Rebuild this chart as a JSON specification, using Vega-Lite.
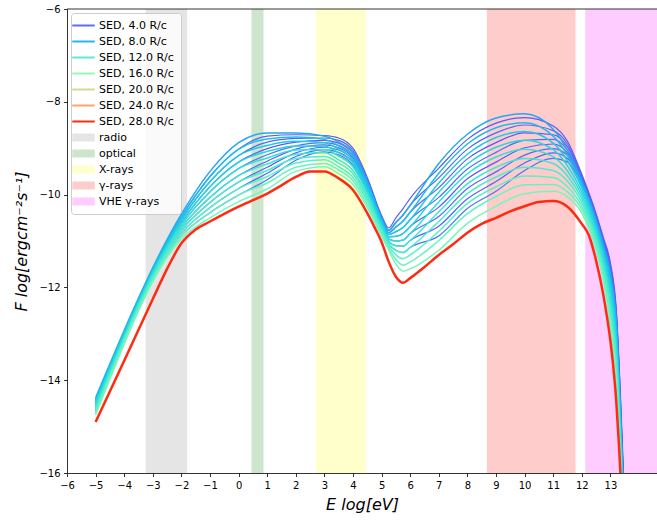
{
  "$schema": "https://vega.github.io/schema/vega-lite/v6.json",
  "width": 590,
  "height": 464,
  "autosize": {"type": "none"},
  "padding": {"left": 67, "top": 9, "right": 0, "bottom": 49},
  "config": {
    "view": {"stroke": null},
    "font": "DejaVu Sans",
    "axis": {
      "labelFont": "DejaVu Sans", "labelFontSize": 10, "labelColor": "#000000",
      "tickColor": "#000000", "tickSize": 3.5, "tickWidth": 0.8,
      "domainColor": "#000000", "domainWidth": 0.8, "labelPadding": 3.5,
      "labelOverlap": false, "labelBound": false, "labelFlush": false,
      "grid": false, "titleFont": "DejaVu Sans", "titleFontSize": 16,
      "titleFontWeight": "normal", "titleFontStyle": "italic", "titleColor": "#000000"
    }
  },
  "datasets": {
    "bands": [
      {"s": "radio", "x0": -3.25, "x1": -1.8},
      {"s": "optical", "x0": 0.45, "x1": 0.87},
      {"s": "X-rays", "x0": 2.7, "x1": 4.45},
      {"s": "γ-rays", "x0": 8.68, "x1": 11.78},
      {"s": "VHE γ-rays", "x0": 12.12, "x1": 14.63}
    ],
    "fb": [
      {"s":"b0","x":-5,"y":-14.42},{"s":"b0","x":-2,"y":-10.48},{"s":"b0","x":-1,"y":-9.61},{"s":"b0","x":0,"y":-9.02},{"s":"b0","x":1,"y":-8.74},{"s":"b0","x":2,"y":-8.71},{"s":"b0","x":3,"y":-8.73},{"s":"b0","x":3.5,"y":-8.78},{"s":"b0","x":4,"y":-9.0},{"s":"b0","x":4.5,"y":-9.63},{"s":"b0","x":5,"y":-10.45},{"s":"b0","x":5.25,"y":-10.72},{"s":"b0","x":5.5,"y":-10.5},{"s":"b0","x":5.75,"y":-10.3},{"s":"b0","x":6,"y":-10.08},{"s":"b0","x":7,"y":-9.43},{"s":"b0","x":8,"y":-8.81},{"s":"b0","x":9,"y":-8.46},{"s":"b0","x":10,"y":-8.34},{"s":"b0","x":11,"y":-8.52},{"s":"b0","x":11.5,"y":-8.85},{"s":"b0","x":12,"y":-9.56},{"s":"b0","x":12.5,"y":-10.41},{"s":"b0","x":12.75,"y":-10.92},{"s":"b0","x":13,"y":-11.47},{"s":"b0","x":13.2,"y":-12.43},{"s":"b0","x":13.47,"y":-16.2},
      {"s":"b1","x":-5,"y":-14.46},{"s":"b1","x":-2,"y":-10.54},{"s":"b1","x":-1,"y":-9.72},{"s":"b1","x":0,"y":-9.16},{"s":"b1","x":1,"y":-8.87},{"s":"b1","x":2,"y":-8.79},{"s":"b1","x":3,"y":-8.78},{"s":"b1","x":3.5,"y":-8.83},{"s":"b1","x":4,"y":-9.05},{"s":"b1","x":4.5,"y":-9.68},{"s":"b1","x":5,"y":-10.48},{"s":"b1","x":5.25,"y":-10.77},{"s":"b1","x":5.5,"y":-10.6},{"s":"b1","x":5.75,"y":-10.44},{"s":"b1","x":6,"y":-10.23},{"s":"b1","x":7,"y":-9.64},{"s":"b1","x":8,"y":-9.02},{"s":"b1","x":9,"y":-8.67},{"s":"b1","x":10,"y":-8.5},{"s":"b1","x":11,"y":-8.62},{"s":"b1","x":11.5,"y":-8.91},{"s":"b1","x":12,"y":-9.59},{"s":"b1","x":12.5,"y":-10.44},{"s":"b1","x":12.75,"y":-10.95},{"s":"b1","x":13,"y":-11.52},{"s":"b1","x":13.2,"y":-12.48},{"s":"b1","x":13.46,"y":-16.2},
      {"s":"b2","x":-5,"y":-14.5},{"s":"b2","x":-2,"y":-10.6},{"s":"b2","x":-1,"y":-9.83},{"s":"b2","x":0,"y":-9.3},{"s":"b2","x":1,"y":-9.01},{"s":"b2","x":2,"y":-8.87},{"s":"b2","x":3,"y":-8.83},{"s":"b2","x":3.5,"y":-8.89},{"s":"b2","x":4,"y":-9.11},{"s":"b2","x":4.5,"y":-9.72},{"s":"b2","x":5,"y":-10.51},{"s":"b2","x":5.25,"y":-10.82},{"s":"b2","x":5.5,"y":-10.7},{"s":"b2","x":5.75,"y":-10.57},{"s":"b2","x":6,"y":-10.38},{"s":"b2","x":7,"y":-9.85},{"s":"b2","x":8,"y":-9.23},{"s":"b2","x":9,"y":-8.88},{"s":"b2","x":10,"y":-8.67},{"s":"b2","x":11,"y":-8.71},{"s":"b2","x":11.5,"y":-8.97},{"s":"b2","x":12,"y":-9.62},{"s":"b2","x":12.5,"y":-10.47},{"s":"b2","x":12.75,"y":-10.98},{"s":"b2","x":13,"y":-11.57},{"s":"b2","x":13.2,"y":-12.53},{"s":"b2","x":13.46,"y":-16.2},
      {"s":"b3","x":-5,"y":-14.54},{"s":"b3","x":-2,"y":-10.65},{"s":"b3","x":-1,"y":-9.94},{"s":"b3","x":0,"y":-9.44},{"s":"b3","x":1,"y":-9.14},{"s":"b3","x":2,"y":-8.95},{"s":"b3","x":3,"y":-8.88},{"s":"b3","x":3.5,"y":-8.94},{"s":"b3","x":4,"y":-9.16},{"s":"b3","x":4.5,"y":-9.76},{"s":"b3","x":5,"y":-10.54},{"s":"b3","x":5.25,"y":-10.86},{"s":"b3","x":5.5,"y":-10.8},{"s":"b3","x":5.75,"y":-10.71},{"s":"b3","x":6,"y":-10.54},{"s":"b3","x":7,"y":-10.06},{"s":"b3","x":8,"y":-9.45},{"s":"b3","x":9,"y":-9.09},{"s":"b3","x":10,"y":-8.83},{"s":"b3","x":11,"y":-8.81},{"s":"b3","x":11.5,"y":-9.04},{"s":"b3","x":12,"y":-9.65},{"s":"b3","x":12.5,"y":-10.49},{"s":"b3","x":12.75,"y":-11.01},{"s":"b3","x":13,"y":-11.61},{"s":"b3","x":13.2,"y":-12.59},{"s":"b3","x":13.45,"y":-16.2},
      {"s":"b4","x":-5,"y":-14.59},{"s":"b4","x":-2,"y":-10.71},{"s":"b4","x":-1,"y":-10.06},{"s":"b4","x":0,"y":-9.59},{"s":"b4","x":1,"y":-9.28},{"s":"b4","x":2,"y":-9.02},{"s":"b4","x":3,"y":-8.93},{"s":"b4","x":3.5,"y":-8.99},{"s":"b4","x":4,"y":-9.21},{"s":"b4","x":4.5,"y":-9.81},{"s":"b4","x":5,"y":-10.57},{"s":"b4","x":5.25,"y":-10.91},{"s":"b4","x":5.5,"y":-10.9},{"s":"b4","x":5.75,"y":-10.84},{"s":"b4","x":6,"y":-10.69},{"s":"b4","x":7,"y":-10.27},{"s":"b4","x":8,"y":-9.66},{"s":"b4","x":9,"y":-9.3},{"s":"b4","x":10,"y":-8.99},{"s":"b4","x":11,"y":-8.91},{"s":"b4","x":11.5,"y":-9.1},{"s":"b4","x":12,"y":-9.68},{"s":"b4","x":12.5,"y":-10.52},{"s":"b4","x":12.75,"y":-11.04},{"s":"b4","x":13,"y":-11.66},{"s":"b4","x":13.2,"y":-12.64},{"s":"b4","x":13.45,"y":-16.2},
      {"s":"b5","x":-5,"y":-14.63},{"s":"b5","x":-2,"y":-10.77},{"s":"b5","x":-1,"y":-10.17},{"s":"b5","x":0,"y":-9.73},{"s":"b5","x":1,"y":-9.41},{"s":"b5","x":2,"y":-9.1},{"s":"b5","x":3,"y":-8.98},{"s":"b5","x":3.5,"y":-9.04},{"s":"b5","x":4,"y":-9.26},{"s":"b5","x":4.5,"y":-9.85},{"s":"b5","x":5,"y":-10.6},{"s":"b5","x":5.25,"y":-10.96},{"s":"b5","x":5.5,"y":-11.0},{"s":"b5","x":5.75,"y":-10.98},{"s":"b5","x":6,"y":-10.84},{"s":"b5","x":7,"y":-10.47},{"s":"b5","x":8,"y":-9.87},{"s":"b5","x":9,"y":-9.51},{"s":"b5","x":10,"y":-9.15},{"s":"b5","x":11,"y":-9.01},{"s":"b5","x":11.5,"y":-9.16},{"s":"b5","x":12,"y":-9.71},{"s":"b5","x":12.5,"y":-10.55},{"s":"b5","x":12.75,"y":-11.07},{"s":"b5","x":13,"y":-11.71},{"s":"b5","x":13.2,"y":-12.69},{"s":"b5","x":13.44,"y":-16.2},
      {"s":"b6","x":-5,"y":-14.67},{"s":"b6","x":-2,"y":-10.83},{"s":"b6","x":-1,"y":-10.28},{"s":"b6","x":0,"y":-9.87},{"s":"b6","x":1,"y":-9.54},{"s":"b6","x":2,"y":-9.18},{"s":"b6","x":3,"y":-9.03},{"s":"b6","x":3.5,"y":-9.09},{"s":"b6","x":4,"y":-9.31},{"s":"b6","x":4.5,"y":-9.89},{"s":"b6","x":5,"y":-10.63},{"s":"b6","x":5.25,"y":-11.01},{"s":"b6","x":5.5,"y":-11.1},{"s":"b6","x":5.75,"y":-11.11},{"s":"b6","x":6,"y":-10.99},{"s":"b6","x":7,"y":-10.68},{"s":"b6","x":8,"y":-10.09},{"s":"b6","x":9,"y":-9.72},{"s":"b6","x":10,"y":-9.32},{"s":"b6","x":11,"y":-9.1},{"s":"b6","x":11.5,"y":-9.22},{"s":"b6","x":12,"y":-9.73},{"s":"b6","x":12.5,"y":-10.57},{"s":"b6","x":12.75,"y":-11.11},{"s":"b6","x":13,"y":-11.75},{"s":"b6","x":13.2,"y":-12.75},{"s":"b6","x":13.43,"y":-16.2},
      {"s":"b7","x":-5,"y":-14.71},{"s":"b7","x":-2,"y":-10.89},{"s":"b7","x":-1,"y":-10.39},{"s":"b7","x":0,"y":-10.01},{"s":"b7","x":1,"y":-9.68},{"s":"b7","x":2,"y":-9.26},{"s":"b7","x":3,"y":-9.08},{"s":"b7","x":3.5,"y":-9.14},{"s":"b7","x":4,"y":-9.37},{"s":"b7","x":4.5,"y":-9.94},{"s":"b7","x":5,"y":-10.66},{"s":"b7","x":5.25,"y":-11.06},{"s":"b7","x":5.5,"y":-11.2},{"s":"b7","x":5.75,"y":-11.25},{"s":"b7","x":6,"y":-11.14},{"s":"b7","x":7,"y":-10.89},{"s":"b7","x":8,"y":-10.3},{"s":"b7","x":9,"y":-9.93},{"s":"b7","x":10,"y":-9.48},{"s":"b7","x":11,"y":-9.22},{"s":"b7","x":11.5,"y":-9.3},{"s":"b7","x":12,"y":-9.78},{"s":"b7","x":12.5,"y":-10.6},{"s":"b7","x":12.75,"y":-11.14},{"s":"b7","x":13,"y":-11.8},{"s":"b7","x":13.2,"y":-12.8},{"s":"b7","x":13.43,"y":-16.2}
    ],
    "fa": [
      {"s":"a0","x":-5,"y":-14.38},{"s":"a0","x":-2,"y":-10.42},{"s":"a0","x":-1,"y":-9.5},{"s":"a0","x":0,"y":-8.88},{"s":"a0","x":1,"y":-8.67},{"s":"a0","x":2,"y":-8.67},{"s":"a0","x":3,"y":-8.74},{"s":"a0","x":3.5,"y":-8.87},{"s":"a0","x":4,"y":-9.09},{"s":"a0","x":4.5,"y":-9.71},{"s":"a0","x":5,"y":-10.5},{"s":"a0","x":5.25,"y":-10.77},{"s":"a0","x":5.5,"y":-10.6},{"s":"a0","x":5.75,"y":-10.44},{"s":"a0","x":6,"y":-10.23},{"s":"a0","x":7,"y":-9.33},{"s":"a0","x":8,"y":-8.7},{"s":"a0","x":9,"y":-8.35},{"s":"a0","x":10,"y":-8.26},{"s":"a0","x":11,"y":-8.59},{"s":"a0","x":11.5,"y":-9.04},{"s":"a0","x":12,"y":-9.7},{"s":"a0","x":12.5,"y":-10.54},{"s":"a0","x":12.75,"y":-11.07},{"s":"a0","x":13,"y":-11.7},{"s":"a0","x":13.2,"y":-12.69},{"s":"a0","x":13.44,"y":-16.2},
      {"s":"a1","x":-5,"y":-14.42},{"s":"a1","x":-2,"y":-10.48},{"s":"a1","x":-1,"y":-9.61},{"s":"a1","x":0,"y":-9.02},{"s":"a1","x":1,"y":-8.8},{"s":"a1","x":2,"y":-8.76},{"s":"a1","x":3,"y":-8.81},{"s":"a1","x":3.5,"y":-8.95},{"s":"a1","x":4,"y":-9.17},{"s":"a1","x":4.5,"y":-9.77},{"s":"a1","x":5,"y":-10.55},{"s":"a1","x":5.25,"y":-10.82},{"s":"a1","x":5.5,"y":-10.7},{"s":"a1","x":5.75,"y":-10.57},{"s":"a1","x":6,"y":-10.38},{"s":"a1","x":7,"y":-9.54},{"s":"a1","x":8,"y":-8.91},{"s":"a1","x":9,"y":-8.56},{"s":"a1","x":10,"y":-8.45},{"s":"a1","x":11,"y":-8.74},{"s":"a1","x":11.5,"y":-9.15},{"s":"a1","x":12,"y":-9.78},{"s":"a1","x":12.5,"y":-10.62},{"s":"a1","x":12.75,"y":-11.16},{"s":"a1","x":13,"y":-11.83},{"s":"a1","x":13.2,"y":-12.83},{"s":"a1","x":13.43,"y":-16.2},
      {"s":"a2","x":-5,"y":-14.46},{"s":"a2","x":-2,"y":-10.54},{"s":"a2","x":-1,"y":-9.72},{"s":"a2","x":0,"y":-9.16},{"s":"a2","x":1,"y":-8.94},{"s":"a2","x":2,"y":-8.85},{"s":"a2","x":3,"y":-8.88},{"s":"a2","x":3.5,"y":-9.02},{"s":"a2","x":4,"y":-9.25},{"s":"a2","x":4.5,"y":-9.84},{"s":"a2","x":5,"y":-10.59},{"s":"a2","x":5.25,"y":-10.86},{"s":"a2","x":5.5,"y":-10.8},{"s":"a2","x":5.75,"y":-10.71},{"s":"a2","x":6,"y":-10.54},{"s":"a2","x":7,"y":-9.75},{"s":"a2","x":8,"y":-9.13},{"s":"a2","x":9,"y":-8.77},{"s":"a2","x":10,"y":-8.64},{"s":"a2","x":11,"y":-8.89},{"s":"a2","x":11.5,"y":-9.27},{"s":"a2","x":12,"y":-9.86},{"s":"a2","x":12.5,"y":-10.69},{"s":"a2","x":12.75,"y":-11.24},{"s":"a2","x":13,"y":-11.96},{"s":"a2","x":13.2,"y":-12.98},{"s":"a2","x":13.43,"y":-16.2},
      {"s":"a3","x":-5,"y":-14.5},{"s":"a3","x":-2,"y":-10.6},{"s":"a3","x":-1,"y":-9.83},{"s":"a3","x":0,"y":-9.3},{"s":"a3","x":1,"y":-9.07},{"s":"a3","x":2,"y":-8.95},{"s":"a3","x":3,"y":-8.96},{"s":"a3","x":3.5,"y":-9.1},{"s":"a3","x":4,"y":-9.32},{"s":"a3","x":4.5,"y":-9.9},{"s":"a3","x":5,"y":-10.64},{"s":"a3","x":5.25,"y":-10.91},{"s":"a3","x":5.5,"y":-10.9},{"s":"a3","x":5.75,"y":-10.84},{"s":"a3","x":6,"y":-10.69},{"s":"a3","x":7,"y":-9.95},{"s":"a3","x":8,"y":-9.34},{"s":"a3","x":9,"y":-8.98},{"s":"a3","x":10,"y":-8.83},{"s":"a3","x":11,"y":-9.03},{"s":"a3","x":11.5,"y":-9.38},{"s":"a3","x":12,"y":-9.94},{"s":"a3","x":12.5,"y":-10.76},{"s":"a3","x":12.75,"y":-11.33},{"s":"a3","x":13,"y":-12.08},{"s":"a3","x":13.2,"y":-13.12},{"s":"a3","x":13.42,"y":-16.2},
      {"s":"a4","x":-5,"y":-14.54},{"s":"a4","x":-2,"y":-10.65},{"s":"a4","x":-1,"y":-9.94},{"s":"a4","x":0,"y":-9.44},{"s":"a4","x":1,"y":-9.21},{"s":"a4","x":2,"y":-9.04},{"s":"a4","x":3,"y":-9.03},{"s":"a4","x":3.5,"y":-9.17},{"s":"a4","x":4,"y":-9.4},{"s":"a4","x":4.5,"y":-9.96},{"s":"a4","x":5,"y":-10.68},{"s":"a4","x":5.25,"y":-10.96},{"s":"a4","x":5.5,"y":-11.0},{"s":"a4","x":5.75,"y":-10.98},{"s":"a4","x":6,"y":-10.84},{"s":"a4","x":7,"y":-10.16},{"s":"a4","x":8,"y":-9.55},{"s":"a4","x":9,"y":-9.19},{"s":"a4","x":10,"y":-9.02},{"s":"a4","x":11,"y":-9.18},{"s":"a4","x":11.5,"y":-9.49},{"s":"a4","x":12,"y":-10.01},{"s":"a4","x":12.5,"y":-10.84},{"s":"a4","x":12.75,"y":-11.42},{"s":"a4","x":13,"y":-12.21},{"s":"a4","x":13.2,"y":-13.27},{"s":"a4","x":13.41,"y":-16.2},
      {"s":"a5","x":-5,"y":-14.59},{"s":"a5","x":-2,"y":-10.71},{"s":"a5","x":-1,"y":-10.06},{"s":"a5","x":0,"y":-9.59},{"s":"a5","x":1,"y":-9.34},{"s":"a5","x":2,"y":-9.13},{"s":"a5","x":3,"y":-9.1},{"s":"a5","x":3.5,"y":-9.25},{"s":"a5","x":4,"y":-9.48},{"s":"a5","x":4.5,"y":-10.03},{"s":"a5","x":5,"y":-10.72},{"s":"a5","x":5.25,"y":-11.01},{"s":"a5","x":5.5,"y":-11.1},{"s":"a5","x":5.75,"y":-11.11},{"s":"a5","x":6,"y":-10.99},{"s":"a5","x":7,"y":-10.37},{"s":"a5","x":8,"y":-9.77},{"s":"a5","x":9,"y":-9.41},{"s":"a5","x":10,"y":-9.22},{"s":"a5","x":11,"y":-9.33},{"s":"a5","x":11.5,"y":-9.6},{"s":"a5","x":12,"y":-10.09},{"s":"a5","x":12.5,"y":-10.91},{"s":"a5","x":12.75,"y":-11.5},{"s":"a5","x":13,"y":-12.34},{"s":"a5","x":13.2,"y":-13.42},{"s":"a5","x":13.41,"y":-16.2},
      {"s":"a6","x":-5,"y":-14.63},{"s":"a6","x":-2,"y":-10.77},{"s":"a6","x":-1,"y":-10.17},{"s":"a6","x":0,"y":-9.73},{"s":"a6","x":1,"y":-9.48},{"s":"a6","x":2,"y":-9.22},{"s":"a6","x":3,"y":-9.18},{"s":"a6","x":3.5,"y":-9.32},{"s":"a6","x":4,"y":-9.55},{"s":"a6","x":4.5,"y":-10.09},{"s":"a6","x":5,"y":-10.77},{"s":"a6","x":5.25,"y":-11.06},{"s":"a6","x":5.5,"y":-11.2},{"s":"a6","x":5.75,"y":-11.25},{"s":"a6","x":6,"y":-11.14},{"s":"a6","x":7,"y":-10.58},{"s":"a6","x":8,"y":-9.98},{"s":"a6","x":9,"y":-9.62},{"s":"a6","x":10,"y":-9.41},{"s":"a6","x":11,"y":-9.48},{"s":"a6","x":11.5,"y":-9.71},{"s":"a6","x":12,"y":-10.17},{"s":"a6","x":12.5,"y":-10.98},{"s":"a6","x":12.75,"y":-11.59},{"s":"a6","x":13,"y":-12.47},{"s":"a6","x":13.2,"y":-13.56},{"s":"a6","x":13.4,"y":-16.2},
      {"s":"a7","x":-5,"y":-14.67},{"s":"a7","x":-2,"y":-10.83},{"s":"a7","x":-1,"y":-10.28},{"s":"a7","x":0,"y":-9.87},{"s":"a7","x":1,"y":-9.61},{"s":"a7","x":2,"y":-9.32},{"s":"a7","x":3,"y":-9.25},{"s":"a7","x":3.5,"y":-9.4},{"s":"a7","x":4,"y":-9.63},{"s":"a7","x":4.5,"y":-10.15},{"s":"a7","x":5,"y":-10.81},{"s":"a7","x":5.25,"y":-11.1},{"s":"a7","x":5.5,"y":-11.3},{"s":"a7","x":5.75,"y":-11.38},{"s":"a7","x":6,"y":-11.3},{"s":"a7","x":7,"y":-10.79},{"s":"a7","x":8,"y":-10.19},{"s":"a7","x":9,"y":-9.83},{"s":"a7","x":10,"y":-9.6},{"s":"a7","x":11,"y":-9.63},{"s":"a7","x":11.5,"y":-9.83},{"s":"a7","x":12,"y":-10.25},{"s":"a7","x":12.5,"y":-11.05},{"s":"a7","x":12.75,"y":-11.68},{"s":"a7","x":13,"y":-12.6},{"s":"a7","x":13.2,"y":-13.71},{"s":"a7","x":13.39,"y":-16.2},
      {"s":"a8","x":-5,"y":-14.71},{"s":"a8","x":-2,"y":-10.89},{"s":"a8","x":-1,"y":-10.39},{"s":"a8","x":0,"y":-10.01},{"s":"a8","x":1,"y":-9.75},{"s":"a8","x":2,"y":-9.41},{"s":"a8","x":3,"y":-9.33},{"s":"a8","x":3.5,"y":-9.47},{"s":"a8","x":4,"y":-9.7},{"s":"a8","x":4.5,"y":-10.22},{"s":"a8","x":5,"y":-10.86},{"s":"a8","x":5.25,"y":-11.15},{"s":"a8","x":5.5,"y":-11.4},{"s":"a8","x":5.75,"y":-11.52},{"s":"a8","x":6,"y":-11.45},{"s":"a8","x":7,"y":-10.99},{"s":"a8","x":8,"y":-10.41},{"s":"a8","x":9,"y":-10.04},{"s":"a8","x":10,"y":-9.79},{"s":"a8","x":11,"y":-9.78},{"s":"a8","x":11.5,"y":-9.94},{"s":"a8","x":12,"y":-10.32},{"s":"a8","x":12.5,"y":-11.13},{"s":"a8","x":12.75,"y":-11.76},{"s":"a8","x":13,"y":-12.72},{"s":"a8","x":13.2,"y":-13.85},{"s":"a8","x":13.39,"y":-16.2},
      {"s":"a9","x":-5,"y":-14.75},{"s":"a9","x":-2,"y":-10.95},{"s":"a9","x":-1,"y":-10.5},{"s":"a9","x":0,"y":-10.15},{"s":"a9","x":1,"y":-9.88},{"s":"a9","x":2,"y":-9.5},{"s":"a9","x":3,"y":-9.4},{"s":"a9","x":3.5,"y":-9.55},{"s":"a9","x":4,"y":-9.78},{"s":"a9","x":4.5,"y":-10.28},{"s":"a9","x":5,"y":-10.9},{"s":"a9","x":5.25,"y":-11.2},{"s":"a9","x":5.5,"y":-11.5},{"s":"a9","x":5.75,"y":-11.65},{"s":"a9","x":6,"y":-11.6},{"s":"a9","x":7,"y":-11.2},{"s":"a9","x":8,"y":-10.62},{"s":"a9","x":9,"y":-10.25},{"s":"a9","x":10,"y":-9.98},{"s":"a9","x":11,"y":-9.93},{"s":"a9","x":11.5,"y":-10.05},{"s":"a9","x":12,"y":-10.4},{"s":"a9","x":12.5,"y":-11.2},{"s":"a9","x":12.75,"y":-11.85},{"s":"a9","x":13,"y":-12.85},{"s":"a9","x":13.2,"y":-14.0},{"s":"a9","x":13.38,"y":-16.2}
    ],
    "red": [
      {"s":"SED, 28.0 R/c","x":-5,"y":-14.9},{"s":"SED, 28.0 R/c","x":-4,"y":-13.58},{"s":"SED, 28.0 R/c","x":-3,"y":-12.25},{"s":"SED, 28.0 R/c","x":-2.5,"y":-11.6},{"s":"SED, 28.0 R/c","x":-2,"y":-11.05},{"s":"SED, 28.0 R/c","x":-1.5,"y":-10.75},{"s":"SED, 28.0 R/c","x":-1,"y":-10.58},{"s":"SED, 28.0 R/c","x":0,"y":-10.26},{"s":"SED, 28.0 R/c","x":0.5,"y":-10.12},{"s":"SED, 28.0 R/c","x":1,"y":-9.98},{"s":"SED, 28.0 R/c","x":1.5,"y":-9.8},{"s":"SED, 28.0 R/c","x":2,"y":-9.62},{"s":"SED, 28.0 R/c","x":2.5,"y":-9.5},{"s":"SED, 28.0 R/c","x":3,"y":-9.5},{"s":"SED, 28.0 R/c","x":3.5,"y":-9.65},{"s":"SED, 28.0 R/c","x":4,"y":-9.9},{"s":"SED, 28.0 R/c","x":4.5,"y":-10.4},{"s":"SED, 28.0 R/c","x":4.75,"y":-10.7},{"s":"SED, 28.0 R/c","x":5,"y":-11.02},{"s":"SED, 28.0 R/c","x":5.25,"y":-11.45},{"s":"SED, 28.0 R/c","x":5.5,"y":-11.77},{"s":"SED, 28.0 R/c","x":5.75,"y":-11.9},{"s":"SED, 28.0 R/c","x":6,"y":-11.8},{"s":"SED, 28.0 R/c","x":6.5,"y":-11.56},{"s":"SED, 28.0 R/c","x":7,"y":-11.3},{"s":"SED, 28.0 R/c","x":7.5,"y":-11.07},{"s":"SED, 28.0 R/c","x":8,"y":-10.82},{"s":"SED, 28.0 R/c","x":8.5,"y":-10.63},{"s":"SED, 28.0 R/c","x":9,"y":-10.5},{"s":"SED, 28.0 R/c","x":9.5,"y":-10.36},{"s":"SED, 28.0 R/c","x":10,"y":-10.25},{"s":"SED, 28.0 R/c","x":10.5,"y":-10.16},{"s":"SED, 28.0 R/c","x":11,"y":-10.14},{"s":"SED, 28.0 R/c","x":11.5,"y":-10.26},{"s":"SED, 28.0 R/c","x":12,"y":-10.63},{"s":"SED, 28.0 R/c","x":12.25,"y":-10.88},{"s":"SED, 28.0 R/c","x":12.5,"y":-11.42},{"s":"SED, 28.0 R/c","x":12.75,"y":-12.15},{"s":"SED, 28.0 R/c","x":13,"y":-13.15},{"s":"SED, 28.0 R/c","x":13.1,"y":-13.7},{"s":"SED, 28.0 R/c","x":13.2,"y":-14.4},{"s":"SED, 28.0 R/c","x":13.3,"y":-15.4},{"s":"SED, 28.0 R/c","x":13.36,"y":-16.1}
    ]
  },
  "layer": [
    {
      "data": {"name": "bands"},
      "mark": {"type": "rect"},
      "encoding": {
        "x": {"field": "x0", "type": "quantitative",
          "scale": {"domain": [-6, 14.63], "nice": false, "zero": false},
          "axis": {"title": "E log[eV]", "values": [-6,-5,-4,-3,-2,-1,0,1,2,3,4,5,6,7,8,9,10,11,12,13], "titlePadding": 6}},
        "x2": {"field": "x1"},
        "y": {"datum": -6, "type": "quantitative",
          "scale": {"domain": [-16, -6], "nice": false, "zero": false},
          "axis": {"title": "F log[ergcm⁻²s⁻¹]", "values": [-6,-8,-10,-12,-14,-16], "titlePadding": 9}},
        "y2": {"datum": -16},
        "color": {
          "field": "s", "type": "nominal",
          "scale": {
            "domain": ["b0","b1","b2","b3","b4","b5","b6","b7","a0","a1","a2","a3","a4","a5","a6","a7","a8","a9",
              "SED, 4.0 R/c","SED, 8.0 R/c","SED, 12.0 R/c","SED, 16.0 R/c","SED, 20.0 R/c","SED, 24.0 R/c","SED, 28.0 R/c",
              "radio","optical","X-rays","γ-rays","VHE γ-rays"],
            "range": ["#5a5cf6","#5466f6","#5e58f6","#4e70f5","#585ef6","#506af5","#5662f6","#4a74f4",
              "#22a8f0","#1cbcec","#1ccbe6","#24d6e0","#30dfda","#3ee6d4","#4cecce","#5af0c8","#68f3c2","#76f6bc",
              "#5a6ef4","#22b8ee","#5ce8d6","#9cf6b2","#d4d994","#ffa26c","#ff2a10",
              "#e5e5e5","#cde4cd","#ffffcc","#ffcccc","#ffccff"]
          },
          "legend": {
            "values": ["SED, 4.0 R/c","SED, 8.0 R/c","SED, 12.0 R/c","SED, 16.0 R/c","SED, 20.0 R/c","SED, 24.0 R/c","SED, 28.0 R/c","radio","optical","X-rays","γ-rays","VHE γ-rays"],
            "title": null,
            "orient": "top-left",
            "offset": 4,
            "padding": 7,
            "fillColor": "rgba(255,255,255,0.8)",
            "strokeColor": "#cccccc",
            "cornerRadius": 3,
            "labelFont": "DejaVu Sans",
            "labelFontSize": 11,
            "labelColor": "#000000",
            "labelOffset": 10,
            "rowPadding": 4,
            "symbolSize": 256,
            "symbolType": "M-1.4,0H1.4",
            "symbolOpacity": 1,
            "encode": {
              "symbols": {
                "update": {
                  "shape": {"value": "M-1.4,0H1.4"},
                  "fill": {"value": "transparent"},
                  "stroke": {"scale": "color", "field": "value"},
                  "strokeJoin": {"value": "bevel"},
                  "strokeCap": {"value": "butt"},
                  "strokeWidth": {"signal": "indexof(['radio','optical','X-rays','γ-rays','VHE γ-rays'], datum.value) >= 0 ? 8 : 2"},
                  "opacity": {"value": 1}
                }
              }
            }
          }
        }
      }
    },
    {
      "data": {"name": "fb"},
      "mark": {"type": "line", "interpolate": "monotone", "strokeWidth": 1.2, "clip": true},
      "encoding": {
        "x": {"field": "x", "type": "quantitative",
          "axis": {"title": "E log[eV]", "values": [-6,-5,-4,-3,-2,-1,0,1,2,3,4,5,6,7,8,9,10,11,12,13], "titlePadding": 6}},
        "y": {"field": "y", "type": "quantitative",
          "axis": {"title": "F log[ergcm⁻²s⁻¹]", "values": [-6,-8,-10,-12,-14,-16], "titlePadding": 9}},
        "color": {"field": "s", "type": "nominal"}
      }
    },
    {
      "data": {"name": "fa"},
      "mark": {"type": "line", "interpolate": "monotone", "strokeWidth": 1.5, "clip": true},
      "encoding": {
        "x": {"field": "x", "type": "quantitative",
          "axis": {"title": "E log[eV]", "values": [-6,-5,-4,-3,-2,-1,0,1,2,3,4,5,6,7,8,9,10,11,12,13], "titlePadding": 6}},
        "y": {"field": "y", "type": "quantitative",
          "axis": {"title": "F log[ergcm⁻²s⁻¹]", "values": [-6,-8,-10,-12,-14,-16], "titlePadding": 9}},
        "color": {"field": "s", "type": "nominal"}
      }
    },
    {
      "data": {"name": "red"},
      "mark": {"type": "line", "interpolate": "monotone", "strokeWidth": 2.5, "clip": true},
      "encoding": {
        "x": {"field": "x", "type": "quantitative",
          "axis": {"title": "E log[eV]", "values": [-6,-5,-4,-3,-2,-1,0,1,2,3,4,5,6,7,8,9,10,11,12,13], "titlePadding": 6}},
        "y": {"field": "y", "type": "quantitative",
          "axis": {"title": "F log[ergcm⁻²s⁻¹]", "values": [-6,-8,-10,-12,-14,-16], "titlePadding": 9}},
        "color": {"field": "s", "type": "nominal"}
      }
    },
    {
      "data": {"values": [{}]},
      "mark": {"type": "rule", "color": "#000000", "strokeWidth": 0.8},
      "encoding": {"y": {"datum": -6}}
    }
  ]
}
